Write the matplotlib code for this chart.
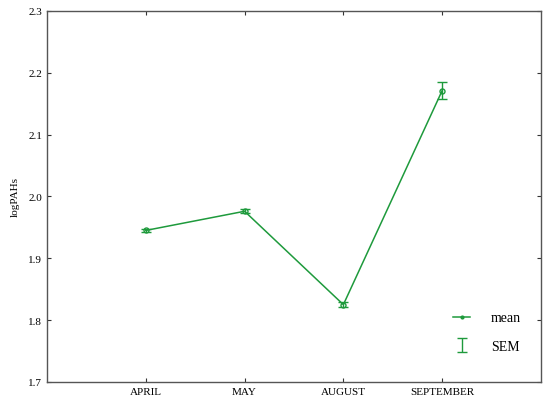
import matplotlib
matplotlib.use('Agg')
import matplotlib.pyplot as plt
import numpy as np
from matplotlib.lines import Line2D

months = ['APRIL', 'MAY', 'AUGUST', 'SEPTEMBER']
mean_vals = [1.945, 1.976, 1.825, 2.171]
sem_vals = [0.003, 0.003, 0.004, 0.014]
yticks = [1.7, 1.8, 1.9, 2.0, 2.1, 2.2, 2.3]

green = '#1e9a3c'

plt.rcParams['font.family'] = ['Liberation Serif', 'DejaVu Serif']

fig = plt.figure(figsize=(5.5, 4.1), dpi=100)
ax = fig.add_axes([0.0855, 0.066, 0.898, 0.905])

x = np.arange(len(months))
ax.plot(x, mean_vals, color=green, lw=1.1, marker='o', markersize=3.6,
        markerfacecolor='none', markeredgewidth=1.0, label='mean')
ax.errorbar(x, mean_vals, yerr=sem_vals, fmt='none', ecolor=green,
            elinewidth=1.0, capsize=3.3, capthick=1.0, label='SEM')

ax.set_xlim(-1, 4)
ax.set_ylim(1.7, 2.3)
ax.set_xticks(x)
ax.set_xticklabels(months)
ax.set_yticks(yticks)
ax.set_yticklabels([f'{v:.1f}' for v in yticks])
ax.set_ylabel('logPAHs', fontsize=8, labelpad=6)

ax.tick_params(direction='in', length=3, width=0.8, labelsize=8,
               top=True, right=True, colors='#333333', labelcolor='black')
for s in ax.spines.values():
    s.set_color('#555555')
    s.set_linewidth(1.0)

# legend handles: line with dot, and a bare error bar
h_mean = Line2D([0], [0], color=green, lw=1.1, marker='o', markersize=2)
handles, labels = ax.get_legend_handles_labels()
leg = ax.legend([h_mean, handles[1]], ['mean', 'SEM'], loc='lower right',
                frameon=False, fontsize=10, handlelength=1.2,
                labelspacing=1.1, handletextpad=1.5,
                bbox_to_anchor=(0.985, 0.045))

fig.savefig('out.png', dpi=100)
